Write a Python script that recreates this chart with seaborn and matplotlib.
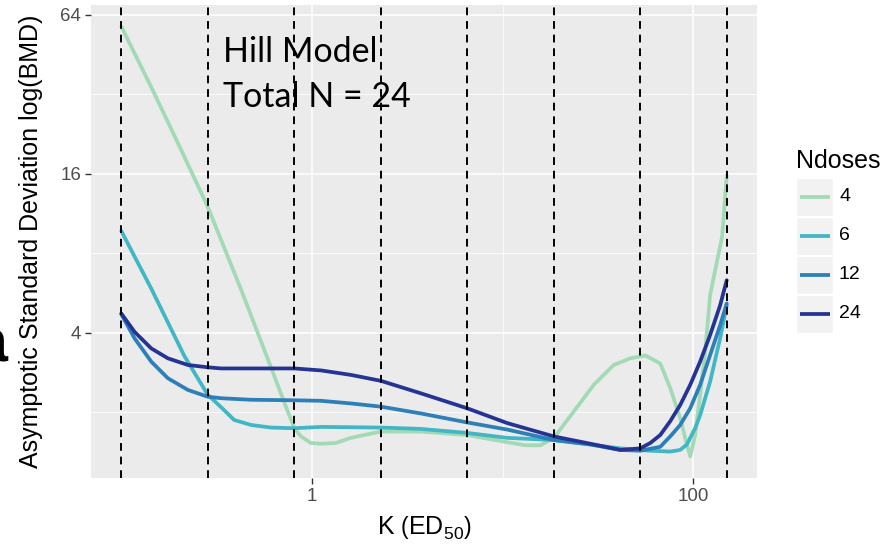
import numpy as np
import pandas as pd
import matplotlib
matplotlib.use("Agg")
import matplotlib.pyplot as plt
import seaborn as sns
from matplotlib.patches import Rectangle
from matplotlib.lines import Line2D
from matplotlib.ticker import NullFormatter, FixedLocator

# ---------------- data ----------------
ndoses_levels = ["4", "6", "12", "24"]
line_colors = ["#a1dab4", "#41b6c4", "#2c7fb8", "#253494"]

k_4 = [0.1, 0.144, 0.206, 0.284, 0.425, 0.585, 0.746, 0.809, 0.876, 0.988, 1.115,
       1.336, 1.6, 2.3, 3.72, 6.53, 10.58, 13.2, 15.8, 18.6, 23.6, 30.1, 38.3, 46.8,
       56.1, 67.2, 75.8, 85.5, 92.7, 96.5, 102.4, 108.8, 115.6, 122.7, 141.9, 150]
sd_4 = [57.7, 33.9, 19.7, 12.0, 5.83, 3.20, 2.02, 1.74, 1.62, 1.53, 1.52,
        1.53, 1.60, 1.69, 1.69, 1.64, 1.54, 1.50, 1.50, 1.60, 2.01, 2.54, 3.02, 3.20,
        3.28, 3.06, 2.47, 1.90, 1.51, 1.36, 1.64, 2.33, 3.39, 5.55, 9.24, 15.7]

k_6 = [0.1, 0.1436, 0.2145, 0.284, 0.334, 0.391, 0.48, 0.61, 0.809, 1.115, 2.3,
       3.72, 6.53, 10.58, 18.6, 28.9, 41.5, 59.6, 75.8, 85.5, 92.7, 102.4, 108.8,
       122.7, 138.5, 150]
sd_6 = [9.71, 5.88, 3.26, 2.33, 2.09, 1.87, 1.79, 1.75, 1.74, 1.76, 1.75,
        1.73, 1.67, 1.60, 1.57, 1.51, 1.46, 1.43, 1.42, 1.44, 1.51, 1.74, 1.95,
        2.61, 3.81, 5.08]

k_12 = [0.1, 0.1174, 0.1436, 0.1756, 0.2235, 0.284, 0.334, 0.48, 0.809, 1.115, 1.6,
        2.3, 3.72, 6.53, 10.58, 18.6, 28.9, 41.5, 52.8, 67.2, 75.8, 85.5, 96.5,
        108.8, 122.7, 138.5, 150]
sd_12 = [4.70, 3.81, 3.11, 2.69, 2.43, 2.29, 2.26, 2.23, 2.22, 2.21, 2.16,
         2.10, 1.98, 1.83, 1.72, 1.57, 1.51, 1.44, 1.43, 1.48, 1.62, 1.79, 2.07,
         2.54, 3.29, 4.27, 5.16]

k_24 = [0.1, 0.1174, 0.1436, 0.1756, 0.2235, 0.284, 0.334, 0.48, 0.809, 1.115, 1.6,
        2.3, 3.72, 6.53, 10.58, 18.6, 28.9, 41.5, 52.8, 59.6, 67.2, 75.8, 85.5,
        96.5, 108.8, 122.7, 138.5, 150]
sd_24 = [4.73, 4.03, 3.49, 3.20, 3.02, 2.96, 2.93, 2.93, 2.93, 2.88, 2.77,
         2.63, 2.36, 2.07, 1.82, 1.62, 1.52, 1.44, 1.46, 1.53, 1.64, 1.85, 2.13,
         2.54, 3.11, 3.92, 5.08, 6.32]

design_k = [0.1, 0.284, 0.809, 2.3, 6.53, 18.6, 52.8, 150]

x_ticks = [1, 100]
x_minor = [0.1, 10, 1000]
y_ticks = [4, 16, 64]
y_minor = [2, 8, 32]

annot_lines = ["Hill Model", "Total N = 24"]

frames = []
for lvl, ks, sds in zip(ndoses_levels, [k_4, k_6, k_12, k_24], [sd_4, sd_6, sd_12, sd_24]):
    frames.append(pd.DataFrame({"K": ks, "SD": sds, "Ndoses": lvl}))
df = pd.concat(frames, ignore_index=True)

# ---------------- style ----------------
sns.set_theme(style="darkgrid")
plt.rcParams["font.family"] = ["Liberation Sans", "DejaVu Sans"]
plt.rcParams["mathtext.fontset"] = "custom"
plt.rcParams["mathtext.rm"] = "Liberation Sans"
plt.rcParams["mathtext.it"] = "Liberation Sans:italic"
plt.rcParams["mathtext.bf"] = "Liberation Sans:bold"
plt.rcParams["lines.solid_joinstyle"] = "round"
plt.rcParams["lines.solid_capstyle"] = "round"

W, H = 882, 549
fig = plt.figure(figsize=(W / 100, H / 100), dpi=100)
fig.patch.set_facecolor("white")


def fx(px):
    return px / W


def fy(py):
    return 1 - py / H


ax = fig.add_axes([fx(91), fy(478), fx(757) - fx(91), fy(5) - fy(478)])
ax.set_facecolor("#EBEBEB")

palette = dict(zip(ndoses_levels, line_colors))
sns.lineplot(data=df, x="K", y="SD", hue="Ndoses", hue_order=ndoses_levels,
             palette=palette, estimator=None, sort=False, legend=False,
             linewidth=2.7, ax=ax, zorder=3)

for k in design_k:
    ax.axvline(k, color="black", linestyle=(0, (4, 3)), linewidth=1.4, zorder=5)

ax.set_xscale("log")
ax.set_yscale("log", base=2)

lx0, lx1 = np.log10(min(df["K"])), np.log10(max(df["K"]))
ex = 0.05 * (lx1 - lx0)
ax.set_xlim(10 ** (lx0 - ex), 10 ** (lx1 + ex))
ly0, ly1 = np.log2(min(df["SD"])), np.log2(max(df["SD"]))
ey = 0.05 * (ly1 - ly0)
ax.set_ylim(2 ** (ly0 - ey), 2 ** (ly1 + ey))

ax.xaxis.set_major_locator(FixedLocator(x_ticks))
ax.xaxis.set_minor_locator(FixedLocator(x_minor))
ax.yaxis.set_major_locator(FixedLocator(y_ticks))
ax.yaxis.set_minor_locator(FixedLocator(y_minor))
ax.set_xticklabels([str(t) for t in x_ticks])
ax.set_yticklabels([str(t) for t in y_ticks])
ax.xaxis.set_minor_formatter(NullFormatter())
ax.yaxis.set_minor_formatter(NullFormatter())

ax.grid(which="major", color="white", linewidth=1.1)
ax.grid(which="minor", color="white", linewidth=0.55)
ax.set_axisbelow(True)
for s in ax.spines.values():
    s.set_visible(False)
ax.tick_params(which="major", bottom=True, left=True, length=4, width=1.0,
               color="#333333", labelsize=13.5, labelcolor="#4D4D4D", pad=3)
ax.tick_params(which="minor", bottom=False, left=False, length=0)
ax.set_xlabel("")
ax.set_ylabel("")

# annotation inside panel (below dashed lines)
ax.text(fx(223), fy(61.7), annot_lines[0], transform=fig.transFigure,
        fontsize=24.5, family=["Lato", "DejaVu Sans"], ha="left", va="baseline",
        color="black", zorder=2)
ax.text(fx(223), fy(106.7), annot_lines[1], transform=fig.transFigure,
        fontsize=24.5, family=["Lato", "DejaVu Sans"], ha="left", va="baseline",
        color="black", zorder=2)

# axis titles
fig.text(fx(31), fy(241.5), "Asymptotic Standard Deviation log(BMD)", rotation=90,
         ha="center", va="center", fontsize=18, color="black")
fig.text(fx(424), fy(527), r"K $\left(\mathrm{ED}_{50}\right)$", ha="center",
         va="center", fontsize=18, color="black")

# cropped panel letter at the left edge (as in the reference)
fig.text(fx(-27), fy(362), "a", fontsize=44, fontweight="bold", ha="left",
         va="baseline", color="black")

# ---------------- legend (ggplot style) ----------------
lax = fig.add_axes([0, 0, 1, 1])
lax.set_xlim(0, W)
lax.set_ylim(H, 0)
lax.axis("off")
lax.patch.set_alpha(0)
lax.text(796, 168, "Ndoses", fontsize=18, ha="left", va="baseline", color="black")
key_top = 178
key_pitch = 39.0
key_size = 37.5
for i, (lvl, col) in enumerate(zip(ndoses_levels, line_colors)):
    y0 = key_top + i * key_pitch
    lax.add_patch(Rectangle((796, y0), 36.7, key_size, facecolor="#F2F2F2",
                            edgecolor="white", linewidth=1))
    yc = y0 + key_size / 2
    lax.add_line(Line2D([799.5, 830], [yc, yc], color=col, linewidth=2.7,
                        solid_capstyle="butt"))
    lax.text(839, yc, lvl, fontsize=14, ha="left", va="center", color="black")

fig.savefig("out.png", dpi=100)
